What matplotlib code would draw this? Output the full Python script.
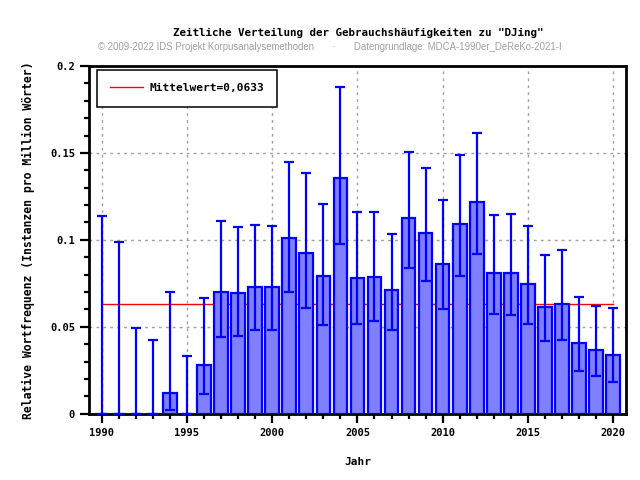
import matplotlib.pyplot as plt
from matplotlib.ticker import MultipleLocator

years = list(range(1990, 2021))
freq = [0, 0, 0, 0, 0.0117, 0, 0.0279, 0.0701, 0.0694, 0.0728, 0.0728,
        0.1010, 0.0924, 0.0792, 0.1356, 0.0780, 0.0786, 0.0711, 0.1126, 0.1039, 0.0861,
        0.1091, 0.1218, 0.0809, 0.0809, 0.0745, 0.0613, 0.0630, 0.0405, 0.0365, 0.0336]
err_low = [0, 0, 0, 0, 0.0019, 0, 0.0111, 0.0444, 0.0450, 0.0484, 0.0484,
           0.0699, 0.0611, 0.0513, 0.0976, 0.0519, 0.0532, 0.0484, 0.0841, 0.0763, 0.0601,
           0.0795, 0.0918, 0.0572, 0.0567, 0.0515, 0.0417, 0.0423, 0.0244, 0.0215, 0.0180]
err_high = [0.1137, 0.0987, 0.0494, 0.0423, 0.0699, 0.0330, 0.0665, 0.1109, 0.1074, 0.1085, 0.1080,
            0.1449, 0.1383, 0.1207, 0.1881, 0.1160, 0.1160, 0.1034, 0.1506, 0.1414, 0.1230,
            0.1487, 0.1616, 0.1143, 0.1149, 0.1080, 0.0912, 0.0941, 0.0670, 0.0618, 0.0607]
mean_val = 0.0633
yticks = [0, 0.05, 0.1, 0.15, 0.2]
ytick_labels = ['0', '0.05', '0.1', '0.15', '0.2']

mono = 'DejaVu Sans Mono'

fig = plt.figure(figsize=(6.4, 4.8), dpi=100)
ax = fig.add_axes([0.139, 0.138, 0.839, 0.7245])

lower = [f - l for f, l in zip(freq, err_low)]
upper = [h - f for f, h in zip(freq, err_high)]

ax.plot([years[0], years[-1]], [mean_val, mean_val], color='red', lw=1,
        zorder=2, label='Mittelwert=0,0633')
ax.bar(years, freq, width=0.8, color='#8080ff', edgecolor='blue', linewidth=1.6, zorder=3)
ax.errorbar(years, freq, yerr=[lower, upper], fmt='none', ecolor='blue',
            elinewidth=1.6, capsize=3.5, capthick=1.6, zorder=4)

ax.set_xlim(1989.25, 2020.75)
ax.set_ylim(0, 0.2)
ax.xaxis.set_major_locator(MultipleLocator(5))
ax.xaxis.set_minor_locator(MultipleLocator(1))
ax.set_yticks(yticks)
ax.set_yticklabels(ytick_labels)
ax.yaxis.set_minor_locator(MultipleLocator(0.01))

ax.grid(True, which='major', color='#a0a0a0', linestyle=(0, (2, 3)), linewidth=1, zorder=0)
ax.set_axisbelow(True)

for s in ax.spines.values():
    s.set_linewidth(2)
ax.tick_params(which='major', direction='out', length=6.5, width=1.6, labelsize=7.5)
ax.tick_params(which='minor', direction='out', length=3.5, width=1.6)
for lab in ax.get_xticklabels() + ax.get_yticklabels():
    lab.set_fontfamily(mono)
    lab.set_fontweight('bold')

ax.set_xlabel('Jahr', fontfamily=mono, fontweight='bold', fontsize=8, labelpad=14)
ax.set_ylabel('Relative Wortfrequenz (Instanzen pro Million Wörter)', fontfamily=mono,
              fontweight='bold', fontsize=8.3, labelpad=11)

fig.text(0.56, 0.931, 'Zeitliche Verteilung der Gebrauchshäufigkeiten zu "DJing"',
         ha='center', va='center', fontfamily=mono, fontweight='bold', fontsize=7.8)
fig.text(0.515, 0.903, '© 2009-2022 IDS Projekt Korpusanalysemethoden       ·       '
         'Datengrundlage: MDCA-1990er_DeReKo-2021-I',
         ha='center', va='center', fontfamily='Liberation Sans', fontsize=6.9, color='#a0a0a0')

leg = ax.legend(loc='upper left', bbox_to_anchor=(0.015, 0.9885), borderaxespad=0,
                fancybox=False, framealpha=1, edgecolor='black', handlelength=2.9,
                handletextpad=0.6, borderpad=1.2,
                prop={'family': mono, 'weight': 'bold', 'size': 8})
leg.get_frame().set_linewidth(1.1)

fig.savefig('out.png', dpi=100)
